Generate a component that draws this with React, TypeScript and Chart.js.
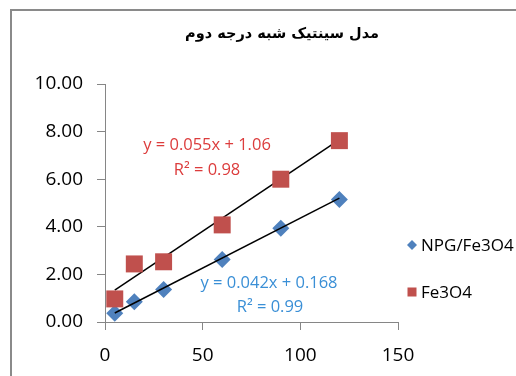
import { useEffect, useRef } from "react";
import { Chart, registerables } from "chart.js";

Chart.register(...registerables);

const TITLE = "مدل سینتیک شبه درجه دوم";
const timeValues = [5, 15, 30, 60, 90, 120];
const npgValues = [0.37, 0.85, 1.37, 2.63, 3.94, 5.15];
const fe3o4Values = [0.97, 2.44, 2.53, 4.08, 6.0, 7.62];
const seriesNames = ["NPG/Fe3O4", "Fe3O4"];
const npgFit = [0.042, 0.168]; // slope, intercept
const fe3o4Fit = [0.055, 1.06];
const npgFitLabels = ["y = 0.042x + 0.168", "R² = 0.99"];
const fe3o4FitLabels = ["y = 0.055x + 1.06", "R² = 0.98"];
const xTicks = [0, 50, 100, 150];
const yTicks = [0, 2, 4, 6, 8, 10];

const BLUE = "#4f81bd";
const RED = "#c0504d";
const BLUE_TEXT = "#3a8fd6";
const RED_TEXT = "#dc3c3c";
const AXIS = "#868686";
const FONT = "'Open Sans', 'Noto Sans', sans-serif";

const fitLine = (fit: number[]) => {
  const xs = [Math.min(...timeValues), Math.max(...timeValues)];
  return xs.map((x) => ({ x, y: fit[0] * x + fit[1] }));
};

const decorPlugin = {
  id: "decor",
  beforeDraw(chart: any) {
    const { ctx, width, height } = chart;
    ctx.save();
    ctx.fillStyle = "#ffffff";
    ctx.fillRect(0, 0, width, height);
    ctx.strokeStyle = "#8a8a8a";
    ctx.lineWidth = 2;
    ctx.beginPath();
    ctx.moveTo(10, 10);
    ctx.lineTo(width, 10);
    ctx.moveTo(11, 9);
    ctx.lineTo(11, height);
    ctx.stroke();
    ctx.restore();
  },
  afterDraw(chart: any) {
    const { ctx } = chart;
    ctx.save();
    // title
    ctx.fillStyle = "#000";
    ctx.font = "bold 14.5px 'DejaVu Sans', sans-serif";
    ctx.textAlign = "center";
    ctx.textBaseline = "middle";
    ctx.fillText(TITLE, 282, 34);

    // trendline labels
    ctx.font = `16.5px ${FONT}`;
    ctx.fillStyle = RED_TEXT;
    ctx.fillText(fe3o4FitLabels[0], 207, 145);
    ctx.fillText(fe3o4FitLabels[1], 207, 170);
    ctx.fillStyle = BLUE_TEXT;
    ctx.fillText(npgFitLabels[0], 269, 283);
    ctx.fillText(npgFitLabels[1], 270, 307);

    // legend
    ctx.textAlign = "left";
    ctx.font = `17px ${FONT}`;
    ctx.fillStyle = BLUE;
    const lx = 412;
    let ly = 245;
    ctx.beginPath();
    ctx.moveTo(lx, ly - 5);
    ctx.lineTo(lx + 5, ly);
    ctx.lineTo(lx, ly + 5);
    ctx.lineTo(lx - 5, ly);
    ctx.closePath();
    ctx.fill();
    ctx.fillStyle = "#000";
    ctx.fillText(seriesNames[0], 421, ly + 1);
    ly = 292;
    ctx.fillStyle = RED;
    ctx.fillRect(lx - 4.5, ly - 4.5, 9, 9);
    ctx.fillStyle = "#000";
    ctx.fillText(seriesNames[1], 421, ly + 1);
    ctx.restore();
  },
};

export default function App() {
  const ref = useRef<HTMLCanvasElement>(null);

  useEffect(() => {
    document.body.style.margin = "0";
    const canvas = ref.current;
    if (!canvas) return;
    const chart = new Chart(canvas, {
      type: "scatter",
      data: {
        datasets: [
          {
            label: seriesNames[0],
            data: timeValues.map((x, i) => ({ x, y: npgValues[i] })),
            backgroundColor: BLUE,
            borderColor: BLUE,
            borderWidth: 0,
            pointStyle: "rectRot",
            pointRadius: 8.5,
            order: 4,
          },
          {
            type: "line",
            label: "npg-fit",
            data: fitLine(npgFit),
            borderColor: "#000",
            borderWidth: 1.5,
            pointRadius: 0,
            fill: false,
            order: 3,
          },
          {
            type: "line",
            label: "fe-fit",
            data: fitLine(fe3o4Fit),
            borderColor: "#000",
            borderWidth: 1.5,
            pointRadius: 0,
            fill: false,
            order: 2,
          },
          {
            label: seriesNames[1],
            data: timeValues.map((x, i) => ({ x, y: fe3o4Values[i] })),
            backgroundColor: RED,
            borderColor: RED,
            borderWidth: 0,
            pointStyle: "rect",
            pointRadius: 12,
            order: 1,
          },
        ],
      } as any,
      options: {
        responsive: false,
        animation: false,
        devicePixelRatio: 1,
        layout: { padding: { left: 0, right: 118, top: 84, bottom: 0 } },
        plugins: {
          legend: { display: false },
          tooltip: { enabled: false },
          title: { display: false },
        },
        scales: {
          x: {
            type: "linear",
            min: xTicks[0],
            max: xTicks[xTicks.length - 1],
            afterBuildTicks: (s: any) => {
              s.ticks = xTicks.map((v) => ({ value: v }));
            },
            afterFit: (s: any) => {
              s.height = 54;
            },
            ticks: {
              color: "#000",
              font: { family: FONT, size: 19 },
              padding: 14,
              maxRotation: 0,
            },
            grid: {
              drawOnChartArea: false,
              drawTicks: true,
              tickLength: 8,
              color: AXIS,
            },
            border: { display: true, color: AXIS, width: 1 },
          },
          y: {
            type: "linear",
            min: yTicks[0],
            max: yTicks[yTicks.length - 1],
            afterBuildTicks: (s: any) => {
              s.ticks = yTicks.map((v) => ({ value: v }));
            },
            afterFit: (s: any) => {
              s.width = 105;
            },
            ticks: {
              color: "#000",
              font: { family: FONT, size: 19 },
              padding: 14,
              callback: (v: any) => Number(v).toFixed(2),
            },
            grid: {
              drawOnChartArea: false,
              drawTicks: true,
              tickLength: 8,
              color: AXIS,
            },
            border: { display: true, color: AXIS, width: 1 },
          },
        },
      } as any,
      plugins: [decorPlugin],
    });
    return () => chart.destroy();
  }, []);

  return (
    <div style={{ position: "absolute", left: 0, top: 0, width: 516, height: 376 }}>
      <canvas ref={ref} width={516} height={376} style={{ width: 516, height: 376 }} />
    </div>
  );
}
